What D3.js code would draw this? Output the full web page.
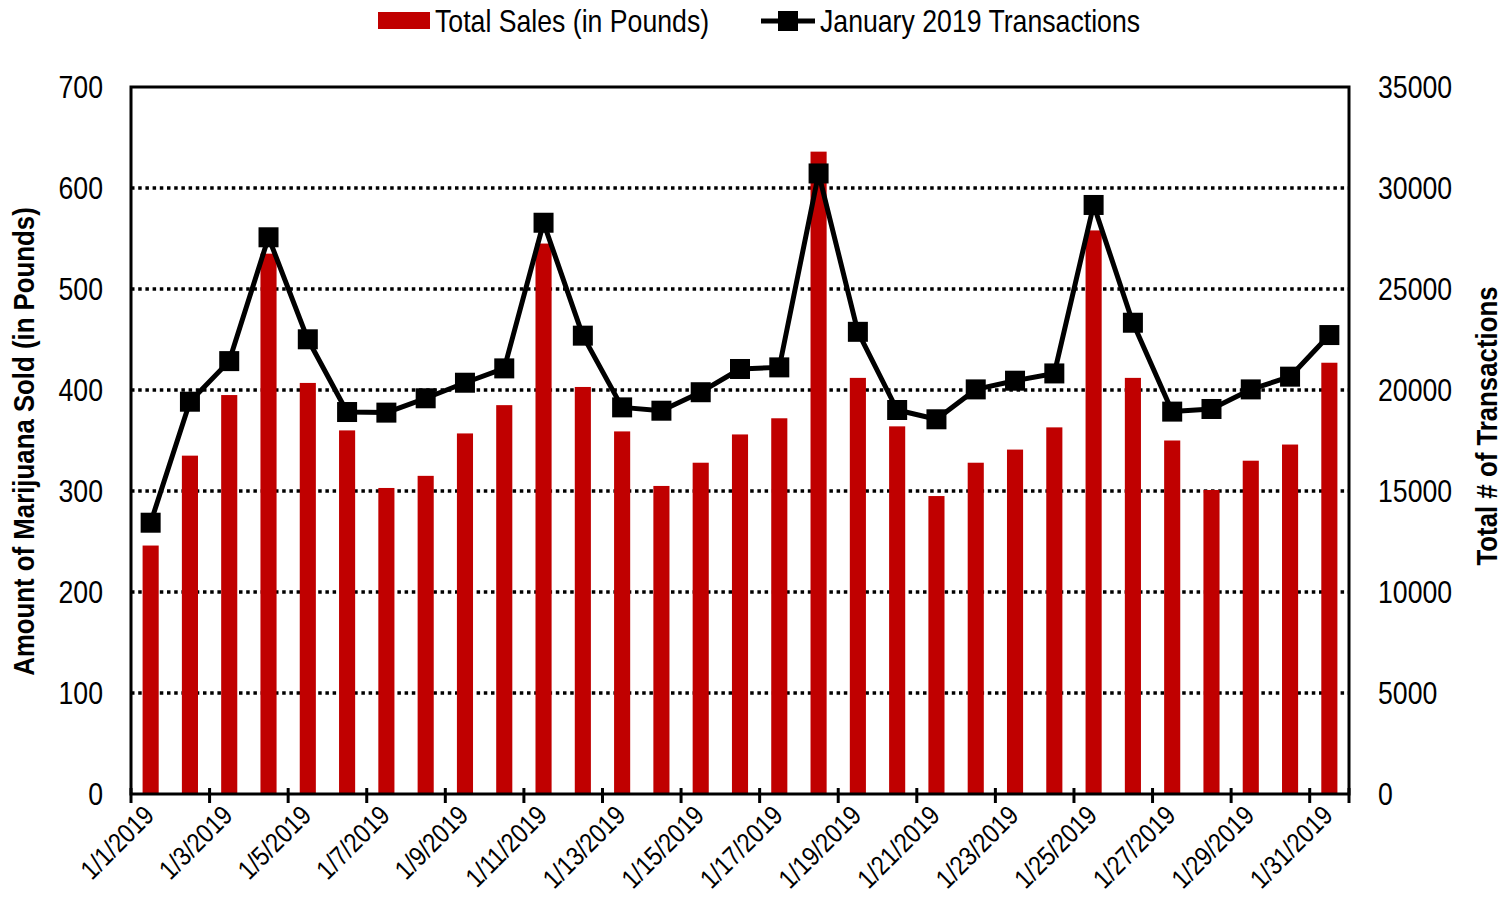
<!DOCTYPE html>
<html>
<head>
<meta charset="utf-8">
<script src="https://cdn.jsdelivr.net/npm/d3@7"></script>
<style>
  body { margin: 0; background: #fff; }
  text { font-family: "Liberation Sans Narrow", "Arial Narrow", "Liberation Sans", Arial, sans-serif; }
</style>
</head>
<body>
<script>
let width = 1511
let height = 900
let margin = {left: 131, right: 162, top: 87, bottom: 106}
let narrow = 0.86   // squeeze text to look like Arial Narrow

// data
let days = d3.range(1, 32).map(d => '1/' + d + '/2019')
let sales = [246, 335, 395, 535, 407, 360, 303, 315, 357, 385,
  545, 403, 359, 305, 328, 356, 372, 636, 412, 364,
  295, 328, 341, 363, 558, 412, 350, 301, 330, 346, 427]
let transactions = [13430, 19420, 21430, 27560, 22510, 18910, 18880, 19590, 20360, 21070,
  28280, 22690, 19140, 18975, 19890, 21040, 21120, 30720, 22880, 19010,
  18550, 20030, 20460, 20820, 29160, 23330, 18930, 19060, 20030, 20660, 22720]
let leftTicks = [0, 100, 200, 300, 400, 500, 600, 700]
let rightTicks = [0, 5000, 10000, 15000, 20000, 25000, 30000, 35000]

let dataset = days.map((d, i) => ({day: d, sales: sales[i], trans: transactions[i]}))

let plotW = width - margin.left - margin.right
let plotH = height - margin.top - margin.bottom

let svg = d3.select('body').append('svg')
  .attr('width', width)
  .attr('height', height)

let g = svg.append('g')
  .attr('transform', 'translate(' + margin.left + ',' + margin.top + ')')

let scaleX = d3.scaleBand()
  .domain(days)
  .range([0, plotW])
  .paddingInner(0)

let scaleY = d3.scaleLinear().domain([0, 700]).range([plotH, 0])
let scaleY2 = d3.scaleLinear().domain([0, 35000]).range([plotH, 0])

let barW = scaleX.bandwidth() * 0.41
let cx = d => scaleX(d) + scaleX.bandwidth() / 2

function at(x, y, rot) {
  return 'translate(' + x + ',' + y + ')' + (rot ? ' rotate(' + rot + ')' : '') + ' scale(' + narrow + ',1)'
}

// dotted gridlines
g.selectAll('.grid')
  .data(leftTicks.filter(t => t > 0 && t < 700))
  .enter().append('line')
  .attr('class', 'grid')
  .attr('x1', 0).attr('x2', plotW)
  .attr('y1', d => scaleY(d)).attr('y2', d => scaleY(d))
  .attr('stroke', '#000')
  .attr('stroke-width', 3.5)
  .attr('stroke-dasharray', '3.5,3.7')

// bars
g.selectAll('.bar')
  .data(dataset)
  .enter().append('rect')
  .attr('class', 'bar')
  .attr('x', d => cx(d.day) - barW / 2)
  .attr('y', d => scaleY(d.sales))
  .attr('width', barW)
  .attr('height', d => plotH - scaleY(d.sales))
  .attr('fill', '#c00000')

// line
let line = d3.line()
  .x(d => cx(d.day))
  .y(d => scaleY2(d.trans))

g.append('path')
  .datum(dataset)
  .attr('d', line)
  .attr('fill', 'none')
  .attr('stroke', '#000')
  .attr('stroke-width', 5)
  .attr('stroke-linejoin', 'round')

let m = 20
g.selectAll('.marker')
  .data(dataset)
  .enter().append('rect')
  .attr('class', 'marker')
  .attr('x', d => cx(d.day) - m / 2)
  .attr('y', d => scaleY2(d.trans) - m / 2)
  .attr('width', m)
  .attr('height', m)
  .attr('fill', '#000')

// frame
g.append('rect')
  .attr('width', plotW)
  .attr('height', plotH)
  .attr('fill', 'none')
  .attr('stroke', '#000')
  .attr('stroke-width', 3)

// left axis labels
g.selectAll('.ly')
  .data(leftTicks)
  .enter().append('text')
  .attr('transform', d => at(-28, scaleY(d)))
  .attr('dy', '0.36em')
  .attr('text-anchor', 'end')
  .attr('font-size', 31)
  .text(d => d)

// right axis labels
g.selectAll('.ry')
  .data(rightTicks)
  .enter().append('text')
  .attr('transform', d => at(plotW + 29, scaleY2(d)))
  .attr('dy', '0.36em')
  .attr('text-anchor', 'start')
  .attr('font-size', 31)
  .text(d => d)

// bottom ticks every 2 days
let tickDays = days.filter((d, i) => i % 2 == 0)
g.selectAll('.xt')
  .data(tickDays.concat(['end']))
  .enter().append('line')
  .attr('x1', d => d == 'end' ? plotW : scaleX(d))
  .attr('x2', d => d == 'end' ? plotW : scaleX(d))
  .attr('y1', plotH - 6)
  .attr('y2', plotH + 9)
  .attr('stroke', '#000')
  .attr('stroke-width', 3)

g.selectAll('.xl')
  .data(tickDays)
  .enter().append('text')
  .attr('transform', d => at(cx(d) + 5, plotH + 23, -45))
  .attr('text-anchor', 'end')
  .attr('font-size', 27)
  .text(d => d)

// axis titles
svg.append('text')
  .attr('transform', at(34, margin.top + plotH / 2 + 1, -90))
  .attr('text-anchor', 'middle')
  .attr('font-size', 30)
  .attr('font-weight', 'bold')
  .text('Amount of Marijuana Sold (in Pounds)')

svg.append('text')
  .attr('transform', at(1497, margin.top + 339, -90))
  .attr('text-anchor', 'middle')
  .attr('font-size', 30)
  .attr('font-weight', 'bold')
  .text('Total # of Transactions')

// legend
let leg = svg.append('g')
leg.append('rect')
  .attr('x', 378).attr('y', 12)
  .attr('width', 52).attr('height', 17)
  .attr('fill', '#c00000')
leg.append('text')
  .attr('transform', at(435, 21))
  .attr('dy', '0.36em')
  .attr('font-size', 31)
  .text('Total Sales (in Pounds)')
leg.append('line')
  .attr('x1', 761).attr('x2', 815)
  .attr('y1', 21).attr('y2', 21)
  .attr('stroke', '#000').attr('stroke-width', 5)
leg.append('rect')
  .attr('x', 788 - 10).attr('y', 21 - 10)
  .attr('width', 20).attr('height', 20)
  .attr('fill', '#000')
leg.append('text')
  .attr('transform', at(820, 21))
  .attr('dy', '0.36em')
  .attr('font-size', 31)
  .text('January 2019 Transactions')
</script>
</body>
</html>
